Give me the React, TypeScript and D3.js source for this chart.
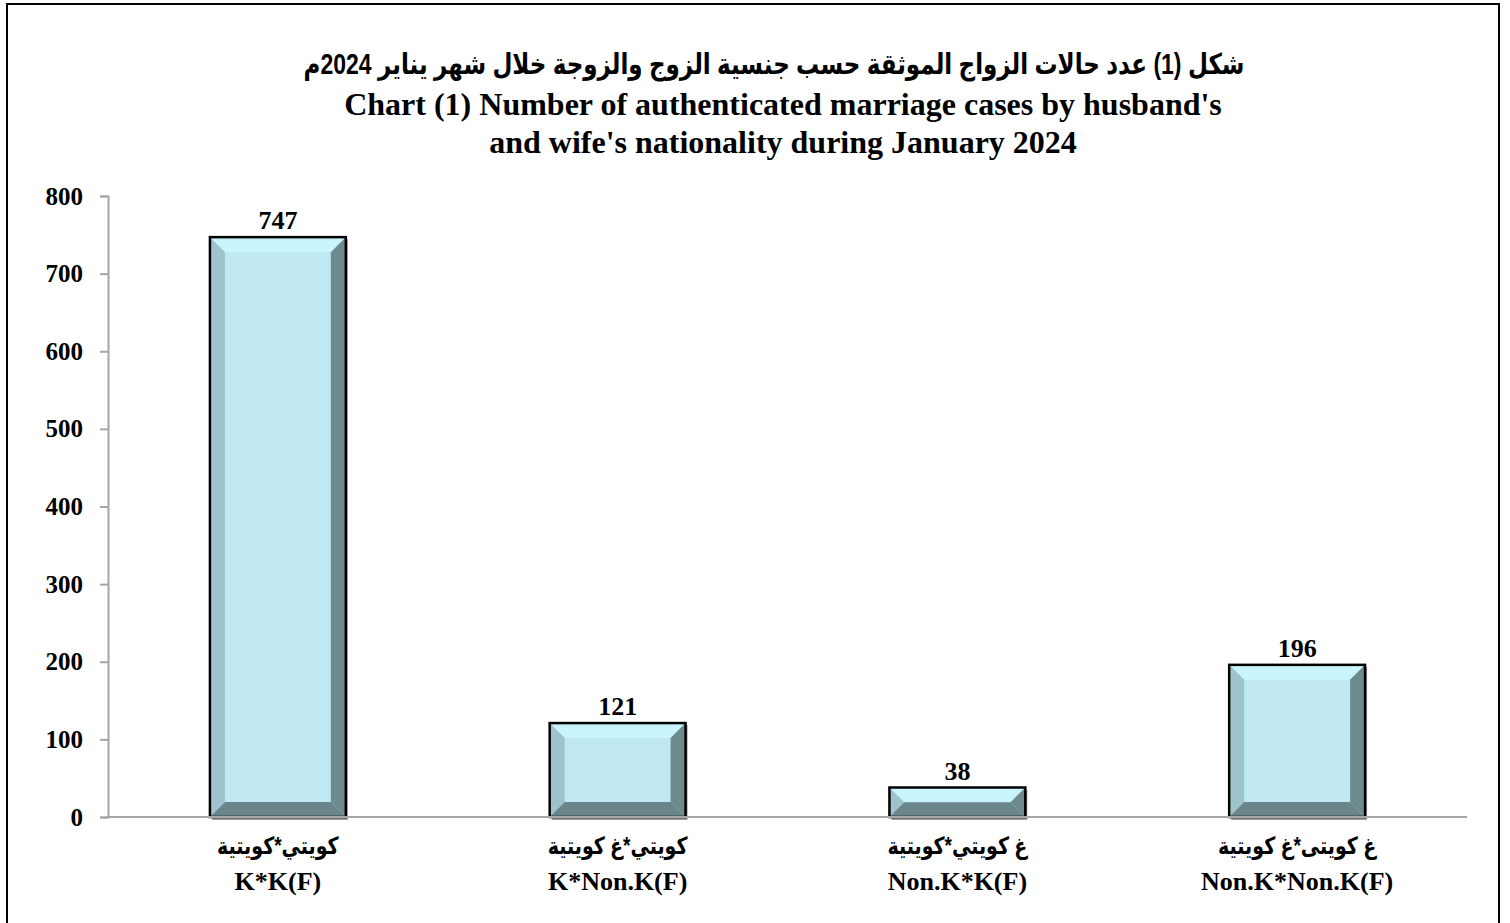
import React, { useRef, useEffect } from 'react';
import * as d3 from 'd3';

const categoriesAr = ['كويتي*كويتية', 'كويتي*غ كويتية', 'غ كويتي*كويتية', 'غ كويتى*غ كويتية'];
const categoriesEn = ['K*K(F)', 'K*Non.K(F)', 'Non.K*K(F)', 'Non.K*Non.K(F)'];
const values = [747, 121, 38, 196];
const yTicks = [0, 100, 200, 300, 400, 500, 600, 700, 800];

const titleAr = 'شكل (1) عدد حالات الزواج الموثقة حسب جنسية الزوج والزوجة خلال شهر يناير 2024م';
const titleEn1 = "Chart (1) Number of authenticated marriage cases by husband's";
const titleEn2 = "and wife's nationality during January 2024";

const serif = "'Liberation Serif', 'Times New Roman', serif";
const sans = "'Liberation Sans', Arial, 'DejaVu Sans', sans-serif";

const App = () => {
  const ref = useRef(null);

  useEffect(() => {
    const svg = d3.select(ref.current);
    svg.selectAll('*').remove();

    const width = 1510;
    const height = 923;
    const margin = { top: 196, right: 43, bottom: 106, left: 108 };

    const x = d3.scaleBand().domain(categoriesEn).range([margin.left, width - margin.right]).paddingInner(0.6).paddingOuter(0.3);
    const y = d3.scaleLinear().domain([0, 800]).range([height - margin.bottom, margin.top]);

    // outer frame
    svg.append('rect')
      .attr('x', 7).attr('y', 4).attr('width', 1492).attr('height', 930)
      .attr('fill', 'white').attr('stroke', 'black').attr('stroke-width', 2);

    // titles (arabic text a little stretched vertically, like the original)
    svg.append('text')
      .attr('transform', 'translate(774,74) scale(1,1.25)')
      .attr('text-anchor', 'middle')
      .attr('font-family', sans).attr('font-weight', 'bold').attr('font-size', 23)
      .attr('direction', 'rtl')
      .text(titleAr);
    [titleEn1, titleEn2].forEach((t, i) => {
      svg.append('text')
        .attr('x', 783).attr('y', 115 + i * 38)
        .attr('text-anchor', 'middle')
        .attr('font-family', serif).attr('font-weight', 'bold').attr('font-size', 32)
        .text(t);
    });

    // y axis
    const yAxis = svg.append('g')
      .attr('transform', `translate(${margin.left},0)`)
      .call(d3.axisLeft(y).tickValues(yTicks).tickSize(8).tickPadding(17));
    yAxis.select('.domain').attr('stroke', '#a6a6a6').attr('stroke-width', 2);
    yAxis.selectAll('.tick line').attr('stroke', '#a6a6a6').attr('stroke-width', 2);
    yAxis.selectAll('.tick text')
      .attr('font-family', serif).attr('font-weight', 'bold').attr('font-size', 25).attr('fill', 'black');

    // bars with bevel
    const bars = svg.append('g');
    categoriesEn.forEach((c, i) => {
      const x0 = x(c);
      const x1 = x0 + x.bandwidth();
      const cx = x0 + x.bandwidth() / 2;
      const y0 = y(values[i]);
      const y1 = y(0);
      const b = Math.min(15, (y1 - y0) / 2);
      const g = bars.append('g');
      const poly = (pts, fill) => g.append('polygon').attr('points', pts.map(p => p.join(',')).join(' ')).attr('fill', fill);
      // shadow
      g.append('rect').attr('x', x0 + 2).attr('y', y0 + 2).attr('width', x1 - x0).attr('height', y1 - y0 + 1).attr('fill', '#9a9a9a');
      g.append('rect').attr('x', x0).attr('y', y0).attr('width', x1 - x0).attr('height', y1 - y0).attr('fill', '#c0e8f2');
      poly([[x0, y0], [x1, y0], [x1 - b, y0 + b], [x0 + b, y0 + b]], '#c8f4fc');
      poly([[x0, y0], [x0 + b, y0 + b], [x0 + b, y1 - b], [x0, y1]], '#9fc3cc');
      poly([[x1, y0], [x1, y1], [x1 - b, y1 - b], [x1 - b, y0 + b]], '#6d8a8f');
      poly([[x0, y1], [x0 + b, y1 - b], [x1 - b, y1 - b], [x1, y1]], '#6b868b');
      g.append('rect').attr('x', x0).attr('y', y0).attr('width', x1 - x0).attr('height', y1 - y0)
        .attr('fill', 'none').attr('stroke', 'black').attr('stroke-width', 2.5);

      svg.append('text')
        .attr('x', cx).attr('y', y0 - 8)
        .attr('text-anchor', 'middle')
        .attr('font-family', serif).attr('font-weight', 'bold').attr('font-size', 26)
        .text(values[i]);

      svg.append('text')
        .attr('transform', `translate(${cx},854) scale(1,1.25)`)
        .attr('text-anchor', 'middle').attr('direction', 'rtl')
        .attr('font-family', sans).attr('font-weight', 'bold').attr('font-size', 19)
        .text(categoriesAr[i]);
      svg.append('text')
        .attr('x', cx).attr('y', 890)
        .attr('text-anchor', 'middle')
        .attr('font-family', serif).attr('font-weight', 'bold').attr('font-size', 26)
        .text(categoriesEn[i]);
    });

    // x axis line
    svg.append('line')
      .attr('x1', margin.left).attr('x2', width - margin.right)
      .attr('y1', y(0)).attr('y2', y(0))
      .attr('stroke', '#a6a6a6').attr('stroke-width', 2);
  }, []);

  return (
    <svg ref={ref} width={1510} height={923} style={{ position: 'absolute', left: 0, top: 0 }}></svg>
  );
};

export default App;
